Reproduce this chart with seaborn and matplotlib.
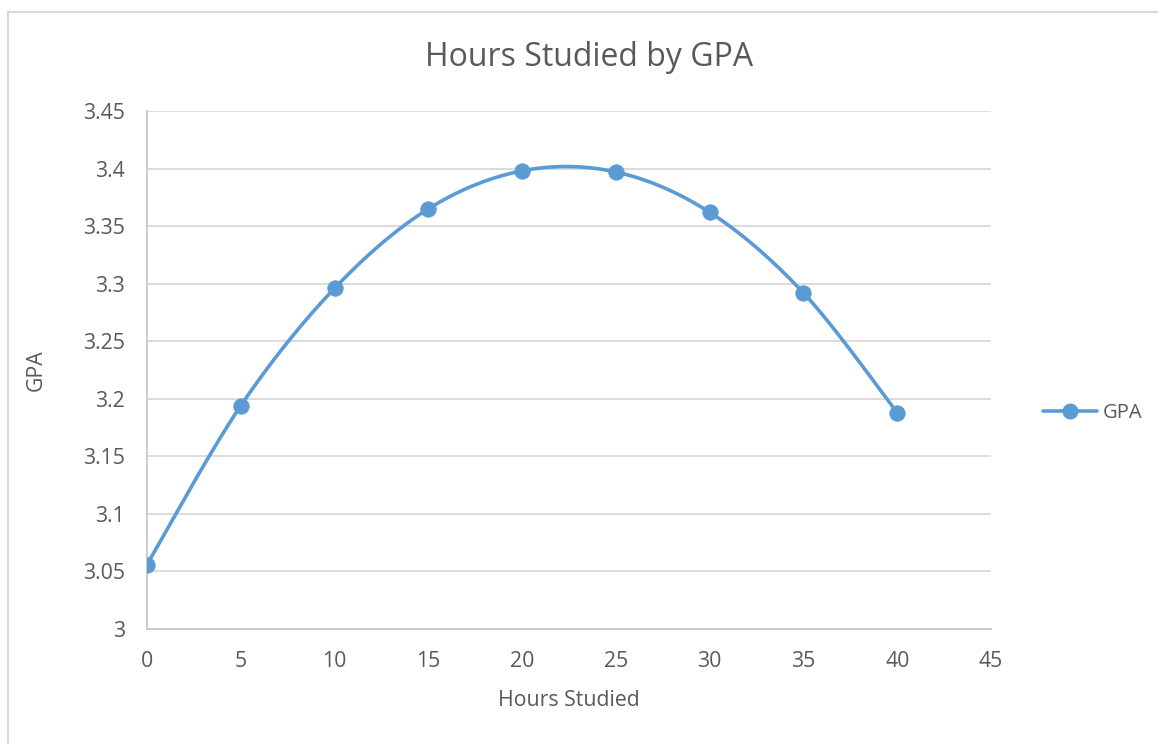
import numpy as np
import pandas as pd
import matplotlib
matplotlib.use("Agg")
import matplotlib.pyplot as plt
import seaborn as sns
from matplotlib.lines import Line2D
from matplotlib.patches import Rectangle

hours = [0, 5, 10, 15, 20, 25, 30, 35, 40]
gpa = [3.056, 3.194, 3.296, 3.365, 3.398, 3.397, 3.362, 3.292, 3.188]
x_ticks = [0, 5, 10, 15, 20, 25, 30, 35, 40, 45]
y_ticks = [3.0, 3.05, 3.1, 3.15, 3.2, 3.25, 3.3, 3.35, 3.4, 3.45]
y_tick_labels = ["3", "3.05", "3.1", "3.15", "3.2", "3.25", "3.3", "3.35", "3.4", "3.45"]
series_name = "GPA"

BLUE = "#5B9BD5"
TEXT = "#595959"
GRID = "#D9D9D9"

sns.set_theme(style="white")
plt.rcParams['font.family'] = ['Open Sans', 'DejaVu Sans']


def smooth_curve(xs, ys, n=40):
    """Excel-like Bezier smoothing (Catmull-Rom style) through the data points."""
    xs = np.asarray(xs, float)
    ys = np.asarray(ys, float)
    P = np.column_stack([xs, ys])
    out = []
    for i in range(len(P) - 1):
        p0 = P[i - 1] if i > 0 else P[i]
        p1 = P[i]
        p2 = P[i + 1]
        p3 = P[i + 2] if i + 2 < len(P) else P[i + 1]
        c1 = p1 + (p2 - p0) / 6.0
        c2 = p2 - (p3 - p1) / 6.0
        t = np.linspace(0, 1, n)[:, None]
        seg = ((1 - t) ** 3) * p1 + 3 * ((1 - t) ** 2) * t * c1 + 3 * (1 - t) * t ** 2 * c2 + t ** 3 * p2
        out.append(seg if i == 0 else seg[1:])
    arr = np.vstack(out)
    return arr[:, 0], arr[:, 1]


df = pd.DataFrame({"Hours Studied": hours, "GPA": gpa})
sx, sy = smooth_curve(hours, gpa)
curve = pd.DataFrame({"x": sx, "y": sy})

fig = plt.figure(figsize=(11.58, 7.44), dpi=100)
ax = fig.add_axes([147 / 1158, 1 - 629 / 744, (991 - 147) / 1158, (629 - 111) / 744])

sns.lineplot(data=curve, x="x", y="y", sort=False, ax=ax, color=BLUE, linewidth=2.6,
             solid_capstyle="round", legend=False)
sns.scatterplot(data=df, x="Hours Studied", y="GPA", ax=ax, color=BLUE, s=125,
                edgecolor=BLUE, linewidth=0.5, zorder=5, legend=False)

ax.set_xlim(0, 45)
ax.set_ylim(3.0, 3.45)
ax.set_xticks(x_ticks)
ax.set_xticklabels([str(v) for v in x_ticks])
ax.set_yticks(y_ticks)
ax.set_yticklabels(y_tick_labels)
ax.tick_params(axis="both", length=0, labelsize=15.3, labelcolor=TEXT)
ax.tick_params(axis="y", pad=16)
ax.tick_params(axis="x", pad=16)
ax.grid(axis="y", color=GRID, linewidth=1.3)
ax.set_axisbelow(True)
for s in ["top", "right"]:
    ax.spines[s].set_visible(False)
for s in ["left", "bottom"]:
    ax.spines[s].set_color("#C8C8C8")
    ax.spines[s].set_linewidth(1.3)

ax.set_xlabel("Hours Studied", fontsize=15.3, color=TEXT, labelpad=13)
ax.set_ylabel("GPA", fontsize=15.3, color=TEXT, labelpad=26)

fig.text(589 / 1158, 1 - 57 / 744, "Hours Studied by GPA", fontsize=23, color=TEXT,
         ha="center", va="center")

handle = Line2D([0], [0], color=BLUE, linewidth=2.6, marker="o", markersize=10.5,
                markerfacecolor=BLUE, markeredgecolor=BLUE)
fig.legend([handle], [series_name], loc="center left",
           bbox_to_anchor=(1043 / 1158, 1 - 413 / 744), frameon=False,
           fontsize=14.5, labelcolor=TEXT, handlelength=2.7, handletextpad=0.25,
           borderaxespad=0, borderpad=0)

border = Rectangle((8 / 1158, -0.2), 1.2, 1.2 + (1 - 12 / 744) - 1, transform=fig.transFigure,
                   fill=False, edgecolor=GRID, linewidth=1.5, clip_on=False)
fig.patches.append(border)

fig.savefig("out.png", dpi=100, facecolor="white")
